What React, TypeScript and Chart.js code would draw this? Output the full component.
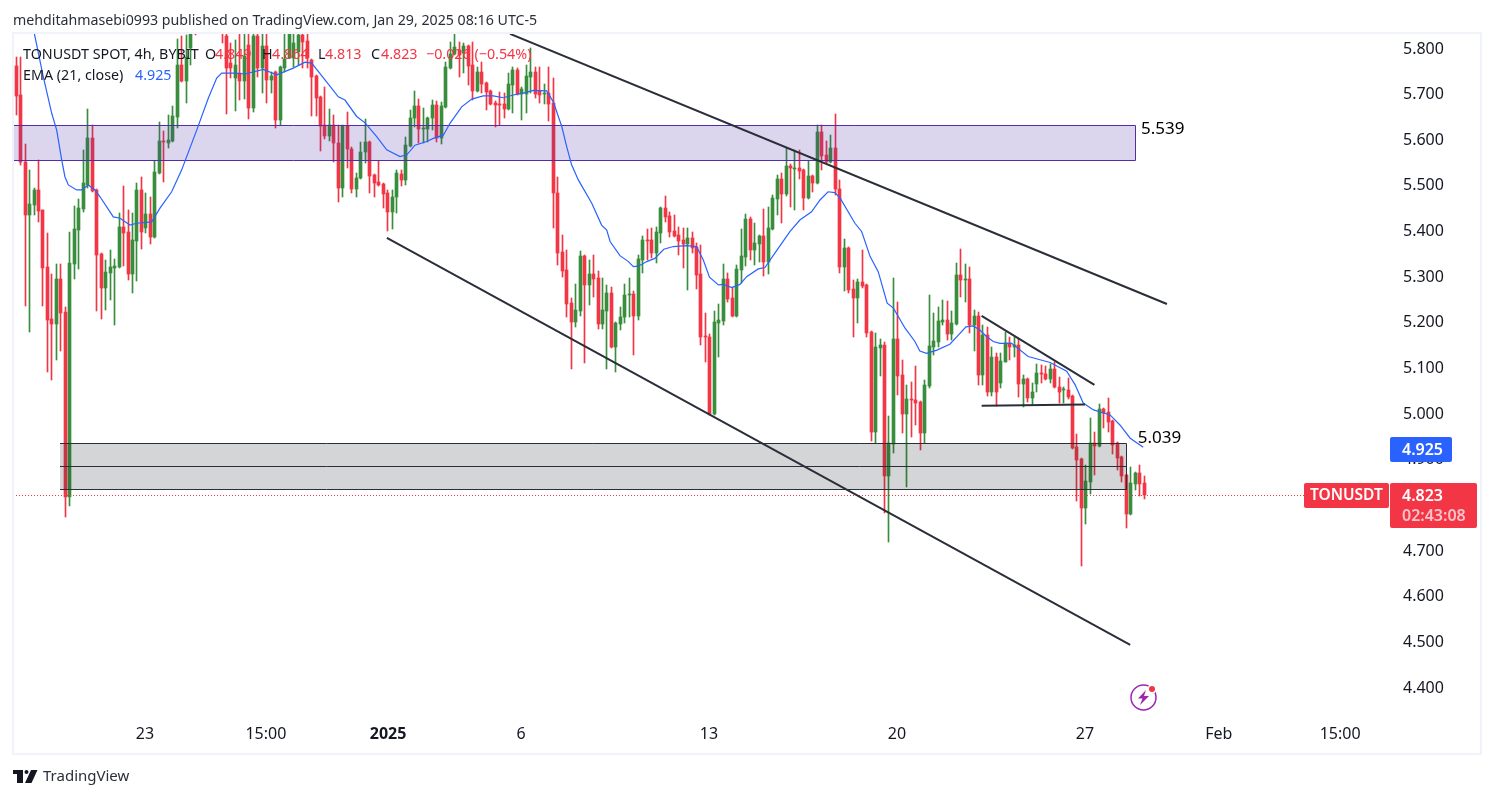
import React, { useEffect, useRef } from "react";
import { Chart, registerables } from "chart.js";

Chart.register(...registerables);

const opens = [
5.761,5.697,5.550,5.434,5.456,5.489,5.445,5.320,5.206,5.195,
5.294,5.222,4.816,5.327,5.401,5.447,5.500,5.603,5.489,5.349,
5.274,5.307,5.318,5.320,5.408,5.397,5.305,5.377,5.489,5.406,
5.436,5.386,5.526,5.596,5.592,5.596,5.649,5.763,5.728,5.800,
5.90,5.89,5.93,5.90,5.95,5.91,5.88,5.826,5.767,5.734,
5.745,5.728,5.807,5.669,5.826,5.756,5.804,5.730,5.747,5.642,
5.756,5.778,5.778,5.791,5.828,5.815,5.774,5.739,5.693,5.631,
5.607,5.631,5.592,5.493,5.629,5.579,5.491,5.515,5.572,5.594,
5.522,5.506,5.502,5.482,5.441,5.474,5.524,5.511,5.585,5.647,
5.673,5.623,5.623,5.647,5.675,5.603,5.671,5.756,5.787,5.796,
5.789,5.804,5.763,5.706,5.747,5.723,5.706,5.679,5.677,5.677,
5.666,5.719,5.752,5.699,5.699,5.736,5.747,5.706,5.699,5.701,
5.679,5.482,5.353,5.314,5.241,5.200,5.224,5.344,5.281,5.305,
5.296,5.195,5.224,5.263,5.145,5.195,5.211,5.259,5.261,5.213,
5.336,5.379,5.379,5.351,5.395,5.449,5.432,5.399,5.390,5.379,
5.371,5.384,5.364,5.305,5.169,5.167,4.998,5.198,5.202,5.294,
5.252,5.213,5.314,5.342,5.425,5.357,5.371,5.388,5.331,5.403,
5.469,5.513,5.480,5.541,5.535,5.537,5.533,5.471,5.520,5.504,
5.616,5.566,5.550,5.581,5.491,5.320,5.362,5.272,5.252,5.287,
5.281,5.178,4.959,5.143,5.149,4.862,4.932,5.162,5.084,4.998,
5.031,5.029,5.024,4.957,5.060,5.145,5.156,5.200,5.204,5.173,
5.195,5.303,5.292,5.294,5.193,5.213,5.084,5.171,5.046,5.123,
5.066,5.112,5.154,5.145,5.149,5.064,5.075,5.033,5.064,5.088,
5.086,5.075,5.097,5.057,5.051,5.051,5.038,4.926,4.900,4.792,
4.849,4.935,4.928,5.009,5.002,4.983,4.935,4.904,4.864,4.779,
4.845,4.869,4.847,
];

const closes = [
5.695,5.550,5.434,5.458,5.489,5.443,5.318,5.204,5.195,5.294,
5.219,4.816,5.329,5.403,5.449,5.504,5.603,5.487,5.346,5.274,
5.309,5.320,5.322,5.408,5.395,5.305,5.379,5.489,5.397,5.436,
5.386,5.528,5.596,5.594,5.598,5.651,5.763,5.728,5.780,5.84,
5.86,5.93,5.90,5.95,5.91,5.88,5.85,5.756,5.756,5.763,
5.728,5.783,5.669,5.826,5.756,5.804,5.730,5.739,5.642,5.758,
5.776,5.84,5.811,5.828,5.813,5.778,5.736,5.690,5.629,5.607,
5.631,5.592,5.493,5.629,5.579,5.491,5.515,5.572,5.594,5.520,
5.504,5.500,5.480,5.441,5.474,5.526,5.511,5.587,5.647,5.673,
5.623,5.625,5.647,5.675,5.603,5.673,5.758,5.787,5.802,5.785,
5.804,5.761,5.706,5.747,5.721,5.704,5.677,5.675,5.675,5.666,
5.721,5.752,5.699,5.710,5.739,5.747,5.699,5.697,5.701,5.677,
5.482,5.351,5.311,5.239,5.200,5.226,5.344,5.281,5.305,5.294,
5.195,5.226,5.263,5.145,5.198,5.211,5.259,5.261,5.213,5.338,
5.379,5.377,5.351,5.397,5.449,5.430,5.397,5.388,5.377,5.371,
5.384,5.362,5.303,5.167,5.167,4.998,5.200,5.204,5.294,5.250,
5.213,5.316,5.344,5.425,5.357,5.373,5.388,5.331,5.406,5.471,
5.513,5.480,5.541,5.537,5.537,5.530,5.471,5.520,5.504,5.616,
5.563,5.550,5.581,5.491,5.320,5.362,5.270,5.252,5.287,5.279,
5.176,4.959,5.145,5.149,4.862,4.935,5.162,5.081,4.998,5.031,
5.029,5.022,4.957,5.062,5.147,5.158,5.202,5.204,5.173,5.197,
5.303,5.292,5.294,5.193,5.213,5.084,5.171,5.046,5.123,5.046,
5.114,5.154,5.145,5.149,5.064,5.075,5.033,5.046,5.088,5.086,
5.075,5.097,5.057,5.046,5.053,5.035,4.924,4.897,4.792,4.851,
4.935,4.928,5.009,5.000,4.981,4.930,4.902,4.862,4.779,4.846,
4.869,4.845,4.820,
];

const highs = [
5.780,5.780,5.590,5.533,5.493,5.555,5.445,5.395,5.305,5.327,
5.327,5.233,5.397,5.454,5.469,5.577,5.666,5.631,5.492,5.351,
5.336,5.357,5.338,5.438,5.498,5.445,5.438,5.504,5.517,5.482,
5.474,5.552,5.638,5.618,5.653,5.673,5.82,5.826,5.828,5.88,
5.92,5.96,5.97,5.98,5.97,5.94,5.90,5.86,5.811,5.818,
5.84,5.84,5.85,5.86,5.85,5.85,5.85,5.747,5.750,5.760,
5.84,5.87,5.84,5.87,5.87,5.85,5.776,5.741,5.695,5.715,
5.666,5.653,5.631,5.631,5.660,5.582,5.526,5.594,5.644,5.596,
5.524,5.552,5.504,5.489,5.489,5.533,5.533,5.605,5.664,5.706,
5.688,5.669,5.649,5.686,5.684,5.682,5.769,5.813,5.84,5.813,
5.811,5.807,5.813,5.758,5.769,5.725,5.708,5.684,5.704,5.701,
5.745,5.758,5.756,5.715,5.763,5.800,5.758,5.758,5.721,5.758,
5.734,5.517,5.390,5.357,5.252,5.283,5.355,5.346,5.336,5.346,
5.311,5.296,5.281,5.276,5.200,5.233,5.283,5.296,5.268,5.346,
5.388,5.403,5.406,5.408,5.451,5.476,5.441,5.434,5.408,5.406,
5.406,5.397,5.373,5.368,5.219,5.173,5.224,5.239,5.327,5.307,
5.276,5.325,5.403,5.436,5.430,5.417,5.390,5.447,5.452,5.478,
5.522,5.526,5.581,5.546,5.577,5.577,5.535,5.552,5.522,5.631,
5.631,5.596,5.610,5.655,5.511,5.382,5.364,5.292,5.294,5.357,
5.283,5.180,5.176,5.162,5.156,4.994,5.296,5.244,5.116,5.062,
5.068,5.103,5.026,5.073,5.259,5.219,5.233,5.248,5.246,5.224,
5.329,5.360,5.327,5.320,5.226,5.222,5.193,5.189,5.145,5.132,
5.132,5.178,5.167,5.167,5.162,5.084,5.077,5.066,5.108,5.105,
5.103,5.108,5.112,5.079,5.057,5.077,5.040,4.954,4.902,4.886,
4.989,4.959,5.020,5.011,5.033,4.985,4.937,4.906,4.866,4.882,
4.871,4.886,4.862,
];

const lows = [
5.653,5.544,5.235,5.178,5.434,5.419,5.235,5.090,5.073,5.116,
5.136,4.772,4.797,5.294,5.316,5.441,5.493,5.484,5.224,5.206,
5.226,5.248,5.193,5.318,5.322,5.292,5.263,5.290,5.360,5.395,
5.371,5.384,5.523,5.506,5.581,5.594,5.625,5.726,5.680,5.763,
5.828,5.85,5.87,5.88,5.87,5.85,5.811,5.655,5.734,5.662,
5.686,5.688,5.644,5.660,5.736,5.701,5.680,5.701,5.625,5.631,
5.747,5.778,5.758,5.763,5.756,5.756,5.651,5.651,5.574,5.601,
5.596,5.550,5.463,5.474,5.537,5.482,5.474,5.513,5.548,5.482,
5.474,5.498,5.449,5.399,5.403,5.438,5.498,5.500,5.583,5.627,
5.592,5.592,5.594,5.620,5.594,5.590,5.669,5.754,5.785,5.736,
5.745,5.719,5.686,5.704,5.701,5.664,5.675,5.627,5.631,5.647,
5.664,5.658,5.697,5.642,5.658,5.701,5.690,5.680,5.677,5.640,
5.406,5.325,5.298,5.211,5.097,5.189,5.213,5.110,5.237,5.255,
5.184,5.184,5.097,5.143,5.090,5.182,5.197,5.211,5.127,5.204,
5.307,5.336,5.340,5.329,5.373,5.419,5.386,5.386,5.346,5.318,
5.270,5.351,5.272,5.149,5.112,4.996,4.996,5.123,5.193,5.244,
5.211,5.211,5.285,5.322,5.336,5.325,5.331,5.300,5.305,5.401,
5.434,5.417,5.476,5.452,5.445,5.513,5.445,5.469,5.484,5.502,
5.533,5.548,5.548,5.478,5.307,5.268,5.263,5.167,5.197,5.274,
5.167,4.939,4.935,5.081,4.781,4.718,4.913,5.040,4.957,4.838,
4.948,4.974,4.919,4.935,5.055,5.127,5.145,5.193,5.160,5.160,
5.193,5.255,5.244,5.176,5.136,5.062,5.062,5.038,5.038,5.016,
5.055,5.112,5.116,5.123,5.035,5.014,5.024,5.018,5.046,5.066,
5.073,5.066,5.055,5.022,5.022,5.031,4.921,4.808,4.665,4.757,
4.823,4.864,4.926,4.967,4.959,4.911,4.875,4.849,4.748,4.777,
4.832,4.819,4.811,
];

const emaIndex = [
4.06,6.07,7.95,9.06,10.18,10.9,11.66,13.53,14.65,16.12,17.62,18.74,21.71,23.2,25.44,26.94,30.29,32.14,34.75,36.99,
40.34,42.93,44.81,45.93,48.52,51.13,55.22,58.21,61.92,64.54,66.03,69,71.98,73.46,76.09,77.95,80.56,82.79,85.76,87.28,
89.11,91.73,93.2,95.44,96.93,99.54,101.78,104.37,106.6,108.84,111.07,113.3,115.54,118.53,120.01,121.9,123,124.1,125.6,128.6,
130.8,131.95,132.7,134.9,136.8,137.9,139,140.9,142.7,144.7,146.8,149.8,152,153.5,154.9,156.9,158,159.9,161.7,163.2,
165.8,167.3,169.2,172.9,175.1,177.7,179.6,181.4,182.9,184.1,187.4,188.9,190.8,192.6,194.6,196,198.6,200.8,201.9,203.4,
205.7,208.6,210.5,212.2,213.8,215.3,216.8,218.3,219.8,222.4,226.1,231,234.7,236.6,238.4,240.7,244.4,246.6,248.9,251.8,
];
const emaValues = [
5.832,5.737,5.657,5.62,5.555,5.518,5.5,5.489,5.489,5.5,5.489,5.474,5.43,5.427,5.412,5.416,5.419,5.449,5.485,5.533,
5.62,5.69,5.734,5.745,5.745,5.743,5.753,5.741,5.756,5.769,5.767,5.73,5.693,5.686,5.65,5.636,5.606,5.577,5.562,5.566,
5.587,5.595,5.602,5.609,5.635,5.671,5.688,5.695,5.695,5.691,5.697,5.701,5.707,5.706,5.682,5.628,5.584,5.544,5.511,5.46,
5.412,5.401,5.376,5.345,5.332,5.321,5.322,5.332,5.339,5.359,5.365,5.367,5.365,5.336,5.298,5.281,5.282,5.275,5.282,5.299,
5.316,5.319,5.346,5.398,5.423,5.441,5.467,5.485,5.483,5.471,5.416,5.398,5.343,5.31,5.241,5.23,5.186,5.157,5.136,5.131,
5.138,5.151,5.171,5.189,5.191,5.182,5.168,5.157,5.153,5.153,5.124,5.111,5.092,5.062,5.022,5.007,4.996,4.974,4.945,4.925,
];

// trend lines: [index, price, index, price]
const channelUpper = [110.34, 5.831, 257.1, 5.239];
const channelLower = [82.83, 5.384, 248.9, 4.492];
const wedgeUpper = [215.7, 5.213, 240.9, 5.062];
const wedgeFloor = [215.7, 5.016, 238.8, 5.019];

const priceLine = [4.8195];

// zones: [from index, to index, high, low]
const purpleZone = [-0.7, 250.0, 5.631, 5.554];
const greyZone = [9.91, 247.96, 4.934, 4.833];
const greyZoneMid = [4.8835];

const zoneLabels = [
  { text: "5.539", index: 251.3, price: 5.622 },
  { text: "5.039", index: 250.6, price: 4.946 },
];

const yTicks = [5.8, 5.7, 5.6, 5.5, 5.4, 5.3, 5.2, 5.1, 5.0, 4.9, 4.8, 4.7, 4.6, 4.5, 4.4];
const xTickIndex = [28.79, 55.8, 83.1, 112.8, 154.8, 196.8, 238.8, 268.7, 295.8];
const xTickLabels = ["23", "15:00", "2025", "6", "13", "20", "27", "Feb", "15:00"];

const headerText = "mehditahmasebi0993 published on TradingView.com, Jan 29, 2025 08:16 UTC-5";

const UP = "#388e3c";
const DOWN = "#f23645";
const FONT = '"Noto Sans", sans-serif';
const INK = "#131722";

function seg(a: number[]) {
  return [{ x: a[0], y: a[1] }, { x: a[2], y: a[3] }];
}

const colors = closes.map((c, i) => (c >= opens[i] ? UP : DOWN));

const snapPlugin = {
  id: "snap",
  beforeDatasetsDraw(chart: any) {
    chart.getSortedVisibleDatasetMetas().forEach((m: any) => {
      if (m.type !== "bar") return;
      m.data.forEach((el: any) => {
        el.x = Math.floor(el.x) + 0.5;
        const a = Math.round(el.y);
        let b = Math.round(el.base);
        if (a === b) b = a + 1;
        el.y = a;
        el.base = b;
      });
    });
  },
};

function drawZone(chart: any, z: number[], fill: string, stroke: string, mid?: number) {
  const { ctx, scales } = chart;
  const x0 = Math.round(scales.x.getPixelForValue(z[0]));
  const x1 = Math.round(scales.x.getPixelForValue(z[1]));
  const y0 = Math.round(scales.y.getPixelForValue(z[2]));
  const y1 = Math.round(scales.y.getPixelForValue(z[3]));
  ctx.save();
  ctx.fillStyle = fill;
  ctx.fillRect(x0, y0, x1 - x0, y1 - y0);
  ctx.strokeStyle = stroke;
  ctx.lineWidth = 1;
  ctx.beginPath();
  ctx.moveTo(x0, y0 + 0.5);
  ctx.lineTo(x1 + 0.5, y0 + 0.5);
  ctx.lineTo(x1 + 0.5, y1 + 0.5);
  ctx.lineTo(x0, y1 + 0.5);
  ctx.stroke();
  if (mid !== undefined) {
    const ym = Math.round(scales.y.getPixelForValue(mid));
    ctx.beginPath();
    ctx.moveTo(x0, ym + 0.5);
    ctx.lineTo(x1, ym + 0.5);
    ctx.stroke();
  }
  ctx.restore();
}

const zonePlugin = {
  id: "zones",
  beforeDatasetDraw(chart: any, args: any) {
    if (chart.data.datasets[args.index].label !== "EMA") return;
    drawZone(chart, purpleZone, "rgba(81,45,168,0.2)", "#512da8");
    drawZone(chart, greyZone, "rgba(42,46,57,0.2)", "#2a2e39", greyZoneMid[0]);
  },
};

function txt(ctx: any, s: string, x: number, y: number, color: string, font: string, align = "left") {
  ctx.fillStyle = color;
  ctx.font = font;
  ctx.textAlign = align;
  ctx.textBaseline = "middle";
  ctx.fillText(s, x, y);
}

function tag(ctx: any, x: number, y: number, w: number, h: number, color: string) {
  ctx.fillStyle = color;
  ctx.beginPath();
  ctx.roundRect(x, y, w, h, 2);
  ctx.fill();
}

const overlayPlugin = {
  id: "overlay",
  afterDraw(chart: any) {
    const { ctx, scales } = chart;
    ctx.save();

    ctx.strokeStyle = "#f0f3fa";
    ctx.lineWidth = 2;
    ctx.strokeRect(13, 33, 1468, 721);

    const f14 = `14.3px ${FONT}`;
    txt(ctx, "TONUSDT SPOT, 4h, BYBIT", 23, 55, INK, f14);
    txt(ctx, "O", 205, 55, INK, f14);
    txt(ctx, "4.849", 215, 55, DOWN, f14);
    txt(ctx, "H", 262, 55, INK, f14);
    txt(ctx, "4.864", 272, 55, DOWN, f14);
    txt(ctx, "L", 318, 55, INK, f14);
    txt(ctx, "4.813", 325, 55, DOWN, f14);
    txt(ctx, "C", 371, 55, INK, f14);
    txt(ctx, "4.823", 381, 55, DOWN, f14);
    txt(ctx, "\u22120.026 (\u22120.54%)", 426, 55, DOWN, f14);
    txt(ctx, "EMA (21, close)", 23, 76, INK, f14);
    txt(ctx, "4.925", 135, 76, "#2962ff", f14);

    txt(ctx, headerText, 13, 21, "#2a2e39", `14.2px ${FONT}`);

    zoneLabels.forEach((l) => {
      txt(ctx, l.text, scales.x.getPixelForValue(l.index), scales.y.getPixelForValue(l.price), "#000000", `17px ${FONT}`);
    });

    tag(ctx, 1390, 437, 62, 25, "#2962ff");
    txt(ctx, "4.925", 1402, 450, "#ffffff", `600 16px ${FONT}`);

    tag(ctx, 1304, 483, 85, 25, DOWN);
    txt(ctx, "TONUSDT", 1310, 496, "#ffffff", `600 15.5px ${FONT}`);
    tag(ctx, 1390, 483, 87, 45, DOWN);
    txt(ctx, "4.823", 1402, 496, "#ffffff", `600 16px ${FONT}`);
    txt(ctx, "02:43:08", 1402, 516, "rgba(255,255,255,0.7)", `600 16px ${FONT}`);

    // publisher mark
    ctx.fillStyle = "#131722";
    ctx.fillRect(13, 770, 10, 4);
    ctx.fillRect(17, 770, 6, 13);
    ctx.beginPath();
    ctx.arc(26.5, 772, 2, 0, Math.PI * 2);
    ctx.fill();
    ctx.beginPath();
    ctx.moveTo(31, 770);
    ctx.lineTo(37.5, 770);
    ctx.lineTo(31.5, 783);
    ctx.lineTo(25, 783);
    ctx.closePath();
    ctx.fill();
    txt(ctx, "TradingView", 43, 777, "#2a2e39", `15px ${FONT}`);

    // alert icon
    ctx.strokeStyle = "#9c27b0";
    ctx.lineWidth = 1.5;
    ctx.beginPath();
    ctx.arc(1143.5, 697.5, 12.5, 0, Math.PI * 2);
    ctx.stroke();
    ctx.fillStyle = "#9c27b0";
    ctx.beginPath();
    ctx.moveTo(1146, 690);
    ctx.lineTo(1138, 698.5);
    ctx.lineTo(1142.5, 698.5);
    ctx.lineTo(1140, 705);
    ctx.lineTo(1149, 696);
    ctx.lineTo(1144, 696);
    ctx.closePath();
    ctx.fill();
    ctx.fillStyle = "#ffffff";
    ctx.beginPath();
    ctx.arc(1152, 689, 4.5, 0, Math.PI * 2);
    ctx.fill();
    ctx.fillStyle = DOWN;
    ctx.beginPath();
    ctx.arc(1152, 689, 3, 0, Math.PI * 2);
    ctx.fill();

    ctx.restore();
  },
};

export default function App() {
  const ref = useRef<HTMLCanvasElement>(null);
  useEffect(() => {
    document.body.style.margin = "0";
    const trend = (label: string, data: number[]) => ({
      type: "line",
      label,
      data: seg(data),
      borderColor: "#2a2e39",
      borderWidth: 2,
      pointRadius: 0,
      order: 1,
    });
    const chart = new Chart(ref.current as any, {
      type: "bar",
      data: {
        datasets: [
          {
            label: "Wicks",
            data: lows.map((l, i) => ({ x: i, y: [l, highs[i]] })),
            backgroundColor: colors,
            barThickness: 1,
            grouped: false,
            order: 5,
          },
          {
            label: "Bodies",
            data: opens.map((o, i) => ({ x: i, y: [o, closes[i]] })),
            backgroundColor: colors,
            barThickness: 3,
            grouped: false,
            order: 4,
          },
          {
            type: "line",
            label: "Price",
            data: [{ x: -0.7, y: priceLine[0] }, { x: 302.5, y: priceLine[0] }],
            borderColor: DOWN,
            borderWidth: 1,
            borderDash: [1, 2],
            pointRadius: 0,
            order: 3,
          },
          {
            type: "line",
            label: "EMA",
            data: emaIndex.map((x, i) => ({ x, y: emaValues[i] })),
            borderColor: "#2962ff",
            borderWidth: 1.2,
            pointRadius: 0,
            tension: 0,
            order: 2,
          },
          trend("Channel upper", channelUpper),
          trend("Channel lower", channelLower),
          trend("Wedge upper", wedgeUpper),
          trend("Wedge floor", wedgeFloor),
        ],
      } as any,
      options: {
        responsive: false,
        animation: false,
        layout: { autoPadding: false, padding: { left: 13, top: 33, right: 13, bottom: 44 } },
        plugins: { legend: { display: false }, tooltip: { enabled: false } },
        scales: {
          x: {
            type: "linear",
            min: -0.7,
            max: 302.47,
            offset: false,
            grid: { display: false, drawTicks: false },
            border: { display: false },
            afterBuildTicks: (s: any) => {
              s.ticks = xTickIndex.map((value) => ({ value }));
            },
            afterFit: (s: any) => {
              s.height = 38;
              s.paddingLeft = 0;
              s.paddingRight = 0;
            },
            ticks: {
              autoSkip: false,
              maxRotation: 0,
              padding: 9,
              color: INK,
              font: (c: any) => ({ family: FONT, size: 16, weight: xTickLabels[c.index] === "2025" ? "bold" : "normal" }),
              callback: (_v: any, i: number) => xTickLabels[i],
            },
          },
          y: {
            type: "linear",
            position: "right",
            min: 4.33637,
            max: 5.83287,
            grid: { display: false, drawTicks: false },
            border: { display: false },
            afterBuildTicks: (s: any) => {
              s.ticks = yTicks.map((value) => ({ value }));
            },
            afterFit: (s: any) => {
              s.width = 111;
              s.paddingTop = 0;
              s.paddingBottom = 0;
              if (!s.__shifted) {
                s.__shifted = true;
                const base = s.drawLabels;
                s.drawLabels = function (area: any) {
                  s.ctx.save();
                  s.ctx.translate(0, 1);
                  base.call(s, area);
                  s.ctx.restore();
                };
              }
            },
            ticks: {
              padding: 33,
              color: INK,
              font: { family: FONT, size: 16 },
              callback: (v: any) => Number(v).toFixed(3),
            },
          },
        },
      } as any,
      plugins: [snapPlugin, zonePlugin, overlayPlugin],
    });
    return () => chart.destroy();
  }, []);
  return (
    <div style={{ position: "absolute", left: 0, top: 0, width: 1494, height: 798, background: "#ffffff" }}>
      <canvas ref={ref} width={1494} height={798} style={{ display: "block" }} />
    </div>
  );
}
